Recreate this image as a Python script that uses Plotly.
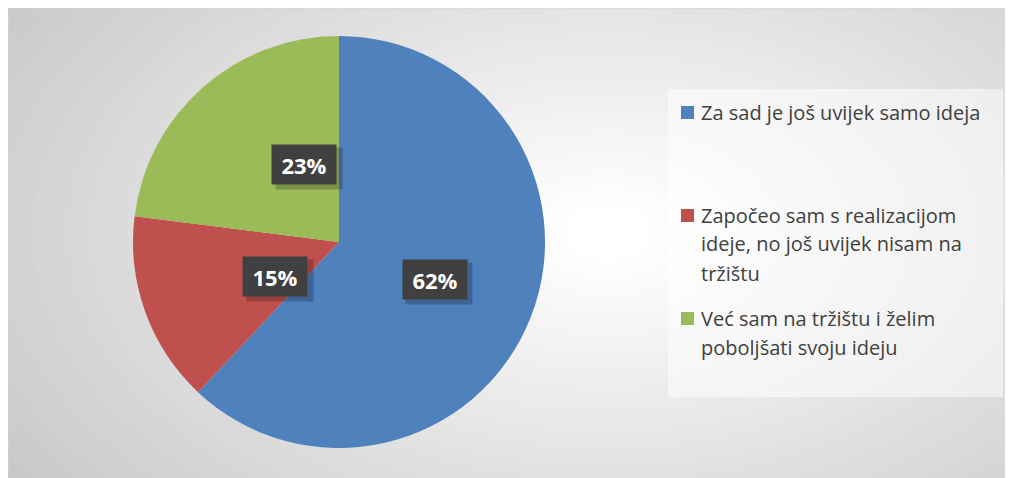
import numpy as np
import plotly.graph_objects as go

# data
labels = [
    "Za sad je još uvijek samo ideja",
    "Započeo sam s realizacijom<br>ideje, no još uvijek nisam na<br>tržištu",
    "Već sam na tržištu i želim<br>poboljšati svoju ideju",
]
values = [62, 15, 23]
colors = ["#4F81BD", "#C0504D", "#9BBB59"]

# page body has an 8px margin, so the figure starts at (8, 8) of the window
OFF = 8
W, H = 1005, 470
cx, cy, r = 339 - OFF, 242 - OFF, 206  # pie centre / radius in px


def px(x):
    return x / W


def py(y):
    return 1 - y / H


fig = go.Figure()

fig.add_trace(go.Pie(
    labels=[l.replace("<br>", " ") for l in labels],
    values=values,
    marker=dict(colors=colors, line=dict(width=0)),
    sort=False,
    direction="clockwise",
    rotation=0,
    textinfo="none",
    showlegend=False,
    domain=dict(x=[px(cx - r), px(cx + r)], y=[py(cy + r), py(cy - r)]),
))

shapes = []

# radial-ish gradient background (grey edges, white centre)
n = 40
gx, gy = 600, 225
for i in range(n):
    t = i / (n - 1)
    c = int(round(198 + (255 - 198) * t))
    rx = 720 * (1 - t) + 40
    ry = 430 * (1 - t) + 25
    shapes.append(dict(type="circle", xref="paper", yref="paper",
                       x0=px(gx - rx), x1=px(gx + rx), y0=py(gy + ry), y1=py(gy - ry),
                       fillcolor=f"rgb({c},{c},{c})", line=dict(width=0), layer="below"))
# thin chart frame at top / left
shapes.append(dict(type="line", xref="paper", yref="paper", x0=0, x1=1, y0=1, y1=1,
                   line=dict(color="#d4d4d4", width=1), layer="below"))
shapes.append(dict(type="line", xref="paper", yref="paper", x0=0, x1=0, y0=0, y1=1,
                   line=dict(color="#d4d4d4", width=1), layer="below"))

# legend box
lx0, ly0 = 668 - OFF, 89 - OFF
shapes.append(dict(type="rect", xref="paper", yref="paper",
                   x0=px(lx0), x1=px(lx0 + 335), y0=py(ly0 + 308), y1=py(ly0),
                   fillcolor="rgba(255,255,255,0.5)", line=dict(width=0), layer="below"))

annotations = []

# legend entries
for i, (lab, col) in enumerate(zip(labels, colors)):
    y0 = ly0 + 23 + i * 103
    shapes.append(dict(type="rect", xref="paper", yref="paper",
                       x0=px(lx0 + 13), x1=px(lx0 + 26), y0=py(y0 + 7), y1=py(y0 - 6),
                       fillcolor=col, line=dict(width=0)))
    for j, line in enumerate(lab.split("<br>")):
        annotations.append(dict(x=px(lx0 + 31), y=py(y0 + j * 29), xref="paper", yref="paper",
                                text=line, showarrow=False, xanchor="left", yanchor="middle",
                                font=dict(family="Open Sans", size=20, color="#404040")))

# data labels at half radius along each slice's mid angle
total = sum(values)
cum = np.cumsum([0] + values)
for i, v in enumerate(values):
    mid = (cum[i] + v / 2) / total * 2 * np.pi
    lx = cx + 0.5 * r * np.sin(mid)
    ly = cy - 0.5 * r * np.cos(mid)
    txt = f"{round(v / total * 100)}%"
    annotations.append(dict(x=px(lx + 4), y=py(ly + 4), xref="paper", yref="paper",
                            text=" ", showarrow=False, width=64, height=39,
                            bgcolor="rgba(0,0,0,0.22)"))
    annotations.append(dict(x=px(lx), y=py(ly), xref="paper", yref="paper",
                            text=f"<b>{txt}</b>", showarrow=False, width=64, height=39,
                            bgcolor="#404040", borderpad=0,
                            font=dict(family="Open Sans", size=22, color="white")))

fig.update_layout(
    width=W, height=H,
    margin=dict(l=0, r=0, t=0, b=0),
    paper_bgcolor="#c6c6c6",
    plot_bgcolor="white",
    shapes=shapes,
    annotations=annotations,
)

fig.write_html("out.html")
